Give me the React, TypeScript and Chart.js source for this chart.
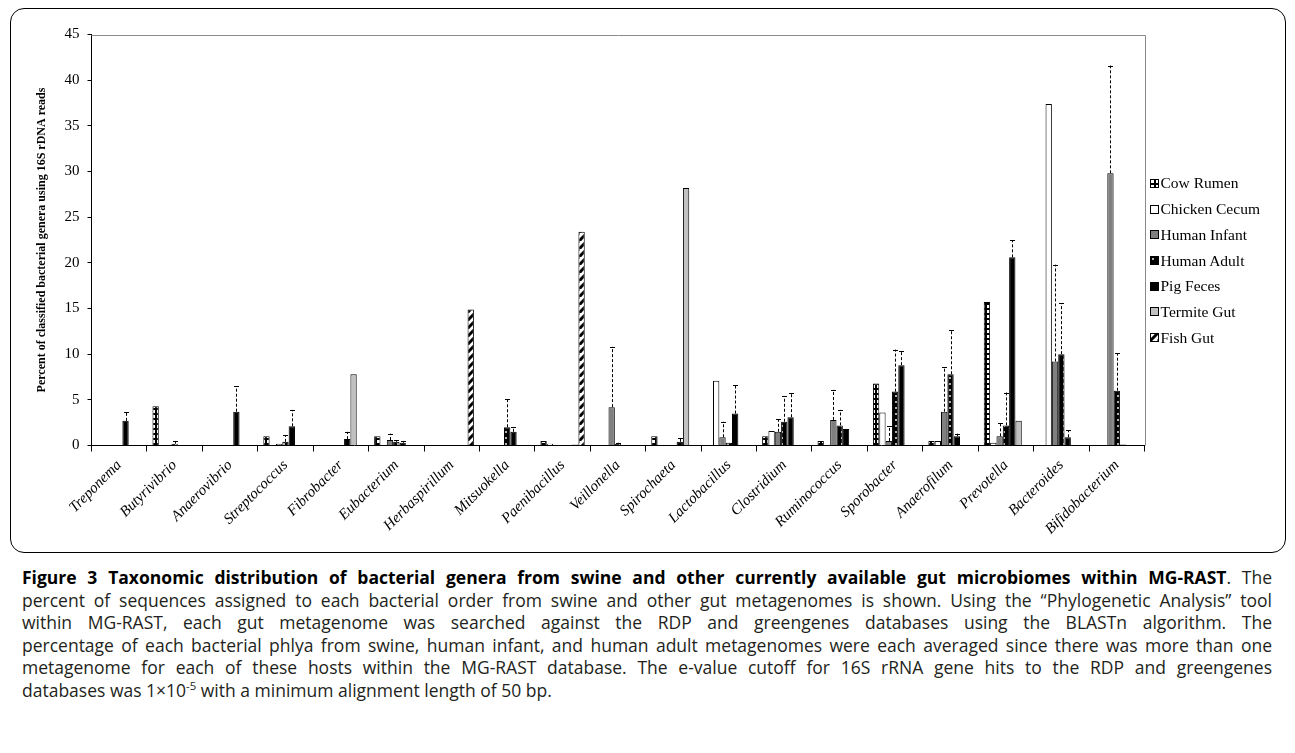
import React, { useEffect, useRef } from 'react';
import Chart from 'chart.js/auto';

const categories = [
  'Treponema', 'Butyrivibrio', 'Anaerovibrio', 'Streptococcus', 'Fibrobacter', 'Eubacterium',
  'Herbaspirillum', 'Mitsuokella', 'Paenibacillus', 'Veillonella', 'Spirochaeta', 'Lactobacillus',
  'Clostridium', 'Ruminococcus', 'Sporobacter', 'Anaerofilum', 'Prevotella', 'Bacteroides', 'Bifidobacterium',
];

const seriesNames = ['Cow Rumen', 'Chicken Cecum', 'Human Infant', 'Human Adult', 'Pig Feces', 'Termite Gut', 'Fish Gut'];

const cowRumen = [0, 4.3, 0, 1.0, 0, 1.0, 0, 0, 0.5, 0, 1.0, 0, 1.0, 0.5, 6.8, 0.5, 15.7, 0, 0];
const chickenCecum = [0, 0, 0, 0, 0, 0, 0, 0, 0.2, 0, 0, 7.1, 1.6, 0, 3.6, 0.5, 0.3, 37.4, 0];
const humanInfant = [0, 0, 0, 0.2, 0, 0.6, 0, 0, 0, 4.2, 0, 0.9, 1.5, 2.8, 0.5, 3.7, 1.0, 9.2, 29.8];
const humanAdult = [0, 0.2, 0, 0.4, 0, 0.4, 0, 2.0, 0, 0.2, 0, 0.3, 2.6, 2.2, 5.9, 7.8, 2.2, 10.0, 6.0];
const pigFeces = [2.7, 0, 3.7, 2.1, 0.7, 0.3, 0, 1.5, 0, 0, 0.4, 3.5, 3.1, 1.8, 8.8, 1.0, 20.6, 0.9, 0.1];
const termiteGut = [0, 0, 0, 0, 7.8, 0, 0, 0, 0.1, 0, 28.2, 0, 0, 0, 0, 0, 2.7, 0, 0];
const fishGut = [0, 0, 0, 0, 0, 0, 14.9, 0, 23.4, 0, 0, 0, 0, 0, 0, 0, 0, 0, 0];

// error bar sizes (upward, above the bar top)
const humanInfantErr = [0, 0, 0, 0, 0, 0.7, 0, 0, 0, 6.6, 0, 1.7, 1.4, 3.3, 1.6, 4.9, 1.5, 10.6, 11.8];
const humanAdultErr = [0, 0.3, 0, 0.7, 0, 0.2, 0, 3.1, 0, 0.1, 0, 0, 2.8, 1.7, 4.6, 4.8, 3.6, 5.6, 4.1];
const pigFecesErr = [1.0, 0, 2.8, 1.8, 0.8, 0.2, 0, 0.5, 0, 0, 0.4, 3.1, 2.6, 0, 1.6, 0.3, 1.9, 0.8, 0];

const yMin = 0;
const yMax = 45;
const yStep = 5;

const yTitle = 'Percent of classified bacterial genera using 16S rDNA reads';

const seriesValues = [cowRumen, chickenCecum, humanInfant, humanAdult, pigFeces, termiteGut, fishGut];
const seriesErrors = [null, null, humanInfantErr, humanAdultErr, pigFecesErr, null, null];
const fillKinds = ['check', '#ffffff', '#808080', 'dots', '#000000', '#c0c0c0', 'stripes'];

const SERIF = "'Liberation Serif', 'Times New Roman', Times, serif";

function makeFill(kind: string): CanvasPattern | string {
  if (kind.startsWith('#')) return kind;
  const c = document.createElement('canvas');
  if (kind === 'check') {
    c.width = 5; c.height = 5;
    const ctx = c.getContext('2d')!;
    ctx.fillStyle = '#000'; ctx.fillRect(0, 0, 5, 5);
    ctx.fillStyle = '#fff'; ctx.fillRect(1, 1, 3, 3);
    return ctx.createPattern(c, 'repeat')!;
  }
  if (kind === 'dots') {
    c.width = 6; c.height = 6;
    const ctx = c.getContext('2d')!;
    ctx.fillStyle = '#000'; ctx.fillRect(0, 0, 6, 6);
    ctx.fillStyle = '#b0b0b0'; ctx.fillRect(2, 2, 2, 2);
    return ctx.createPattern(c, 'repeat')!;
  }
  // stripes
  c.width = 8; c.height = 8;
  const ctx = c.getContext('2d')!;
  ctx.fillStyle = '#fff'; ctx.fillRect(0, 0, 8, 8);
  ctx.strokeStyle = '#000'; ctx.lineWidth = 3;
  for (const k of [-8, 0, 8]) {
    ctx.beginPath(); ctx.moveTo(k, 8); ctx.lineTo(k + 8, 0); ctx.stroke();
  }
  return ctx.createPattern(c, 'repeat')!;
}

const errorBarPlugin = {
  id: 'errorBars',
  afterDatasetsDraw(chart: any) {
    const ctx = chart.ctx;
    const ys = chart.scales.y;
    chart.data.datasets.forEach((ds: any, di: number) => {
      const errs = ds.errors as number[] | null;
      if (!errs) return;
      const meta = chart.getDatasetMeta(di);
      meta.data.forEach((bar: any, i: number) => {
        const e = errs[i];
        if (!e) return;
        const v = ds.data[i] as number;
        const yTop = ys.getPixelForValue(v + e);
        const x = Math.round(bar.x) + 0.5;
        ctx.save();
        ctx.strokeStyle = '#000';
        ctx.lineWidth = 1;
        ctx.setLineDash([3, 2]);
        ctx.beginPath();
        ctx.moveTo(x, bar.y);
        ctx.lineTo(x, yTop);
        ctx.stroke();
        ctx.setLineDash([]);
        ctx.beginPath();
        ctx.moveTo(x - 2.5, Math.round(yTop) + 0.5);
        ctx.lineTo(x + 2.5, Math.round(yTop) + 0.5);
        ctx.stroke();
        ctx.restore();
      });
    });
  },
};

const frameBorderPlugin = {
  id: 'frameBorder',
  beforeDatasetsDraw(chart: any) {
    const { ctx, chartArea } = chart;
    ctx.save();
    ctx.strokeStyle = '#8a8a8a';
    ctx.lineWidth = 1;
    ctx.beginPath();
    ctx.moveTo(chartArea.left, Math.round(chartArea.top) + 0.5);
    ctx.lineTo(Math.round(chartArea.right) + 0.5, Math.round(chartArea.top) + 0.5);
    ctx.lineTo(Math.round(chartArea.right) + 0.5, chartArea.bottom);
    ctx.stroke();
    ctx.restore();
  },
};

const CANVAS_W = 1273;
const CANVAS_H = 542;

export default function App() {
  const canvasRef = useRef<HTMLCanvasElement>(null);
  const swatchRefs = useRef<(HTMLCanvasElement | null)[]>([]);

  useEffect(() => {
    const fills = fillKinds.map(makeFill);
    const datasets = seriesNames.map((name, i) => ({
      label: name,
      data: seriesValues[i],
      backgroundColor: fills[i],
      borderColor: '#000',
      borderWidth: 1,
      categoryPercentage: 0.8,
      barPercentage: 1.0,
      errors: seriesErrors[i],
    }));
    const chart = new Chart(canvasRef.current!, {
      type: 'bar',
      data: { labels: categories, datasets: datasets as any },
      options: {
        responsive: false,
        animation: false,
        layout: { padding: { left: 0, top: 25.5, right: 139.5, bottom: 0 } },
        plugins: { legend: { display: false }, tooltip: { enabled: false } },
        scales: {
          x: {
            grid: { display: true, drawOnChartArea: false, drawTicks: true, tickLength: 6, color: '#000', offset: true },
            border: { display: true, color: '#000', width: 1 },
            ticks: {
              autoSkip: false, maxRotation: 45, minRotation: 45, padding: 5, color: '#000',
              font: { family: SERIF, size: 15, style: 'italic' },
            },
            afterFit: (s: any) => { s.height = 105.5; },
          },
          y: {
            min: yMin,
            max: yMax,
            ticks: { stepSize: yStep, padding: 8, color: '#000', font: { family: SERIF, size: 15 } },
            grid: { drawOnChartArea: false, tickLength: 4, color: '#000' },
            border: { display: true, color: '#000', width: 1 },
            title: {
              display: true, text: yTitle, color: '#000',
              font: { family: SERIF, size: 12, weight: 'bold' },
              padding: { top: 24, bottom: 0 },
            },
            afterFit: (s: any) => { s.width = 80.5; },
          },
        },
      } as any,
      plugins: [errorBarPlugin, frameBorderPlugin],
    });

    swatchRefs.current.forEach((c, i) => {
      if (!c) return;
      const ctx = c.getContext('2d')!;
      ctx.clearRect(0, 0, c.width, c.height);
      ctx.fillStyle = fills[i] as any;
      ctx.fillRect(0, 0, c.width, c.height);
      ctx.strokeStyle = '#000';
      ctx.lineWidth = 1;
      ctx.strokeRect(0.5, 0.5, c.width - 1, c.height - 1);
    });

    return () => chart.destroy();
  }, []);

  const lineStyle: React.CSSProperties = { textAlign: 'justify', textAlignLast: 'justify', whiteSpace: 'nowrap' } as any;

  return (
    <div style={{ width: 1279 }}>
      <div
        style={{
          position: 'relative',
          marginLeft: 2,
          width: 1276,
          height: 545,
          boxSizing: 'border-box',
          border: '1.5px solid #000',
          borderRadius: 14,
          overflow: 'hidden',
        }}
      >
        <canvas
          ref={canvasRef}
          width={CANVAS_W}
          height={CANVAS_H}
          style={{ position: 'absolute', left: 0, top: 0, width: CANVAS_W, height: CANVAS_H }}
        />
        <div style={{ position: 'absolute', left: 1138.5, top: 161.6, fontFamily: SERIF, fontSize: 15.5, color: '#000' }}>
          {seriesNames.map((n, i) => (
            <div key={n} style={{ height: 25.7, display: 'flex', alignItems: 'center', whiteSpace: 'nowrap' }}>
              <canvas
                ref={(el) => { swatchRefs.current[i] = el; }}
                width={9}
                height={9}
                style={{ width: 9, height: 9, marginRight: 2, display: 'block' }}
              />
              <span>{n}</span>
            </div>
          ))}
        </div>
      </div>
      <div
        style={{
          marginLeft: 14,
          marginTop: 13,
          width: 1250,
          fontFamily: "'Open Sans', 'Noto Sans', sans-serif",
          fontSize: 17.5,
          lineHeight: '22.6px',
          color: '#231f20',
        }}
      >
        <div style={lineStyle}>
          <b style={{ color: '#000' }}>Figure 3 Taxonomic distribution of bacterial genera from swine and other currently available gut microbiomes within MG-RAST</b>. The
        </div>
        <div style={lineStyle}>
          percent of sequences assigned to each bacterial order from swine and other gut metagenomes is shown. Using the “Phylogenetic Analysis” tool
        </div>
        <div style={lineStyle}>
          within MG-RAST, each gut metagenome was searched against the RDP and greengenes databases using the BLASTn algorithm. The
        </div>
        <div style={lineStyle}>
          percentage of each bacterial phlya from swine, human infant, and human adult metagenomes were each averaged since there was more than one
        </div>
        <div style={lineStyle}>
          metagenome for each of these hosts within the MG-RAST database. The e-value cutoff for 16S rRNA gene hits to the RDP and greengenes
        </div>
        <div style={{ whiteSpace: 'nowrap' }}>
          databases was 1×10<sup style={{ fontSize: '0.65em', lineHeight: 0 }}>-5</sup> with a minimum alignment length of 50 bp.
        </div>
      </div>
    </div>
  );
}
